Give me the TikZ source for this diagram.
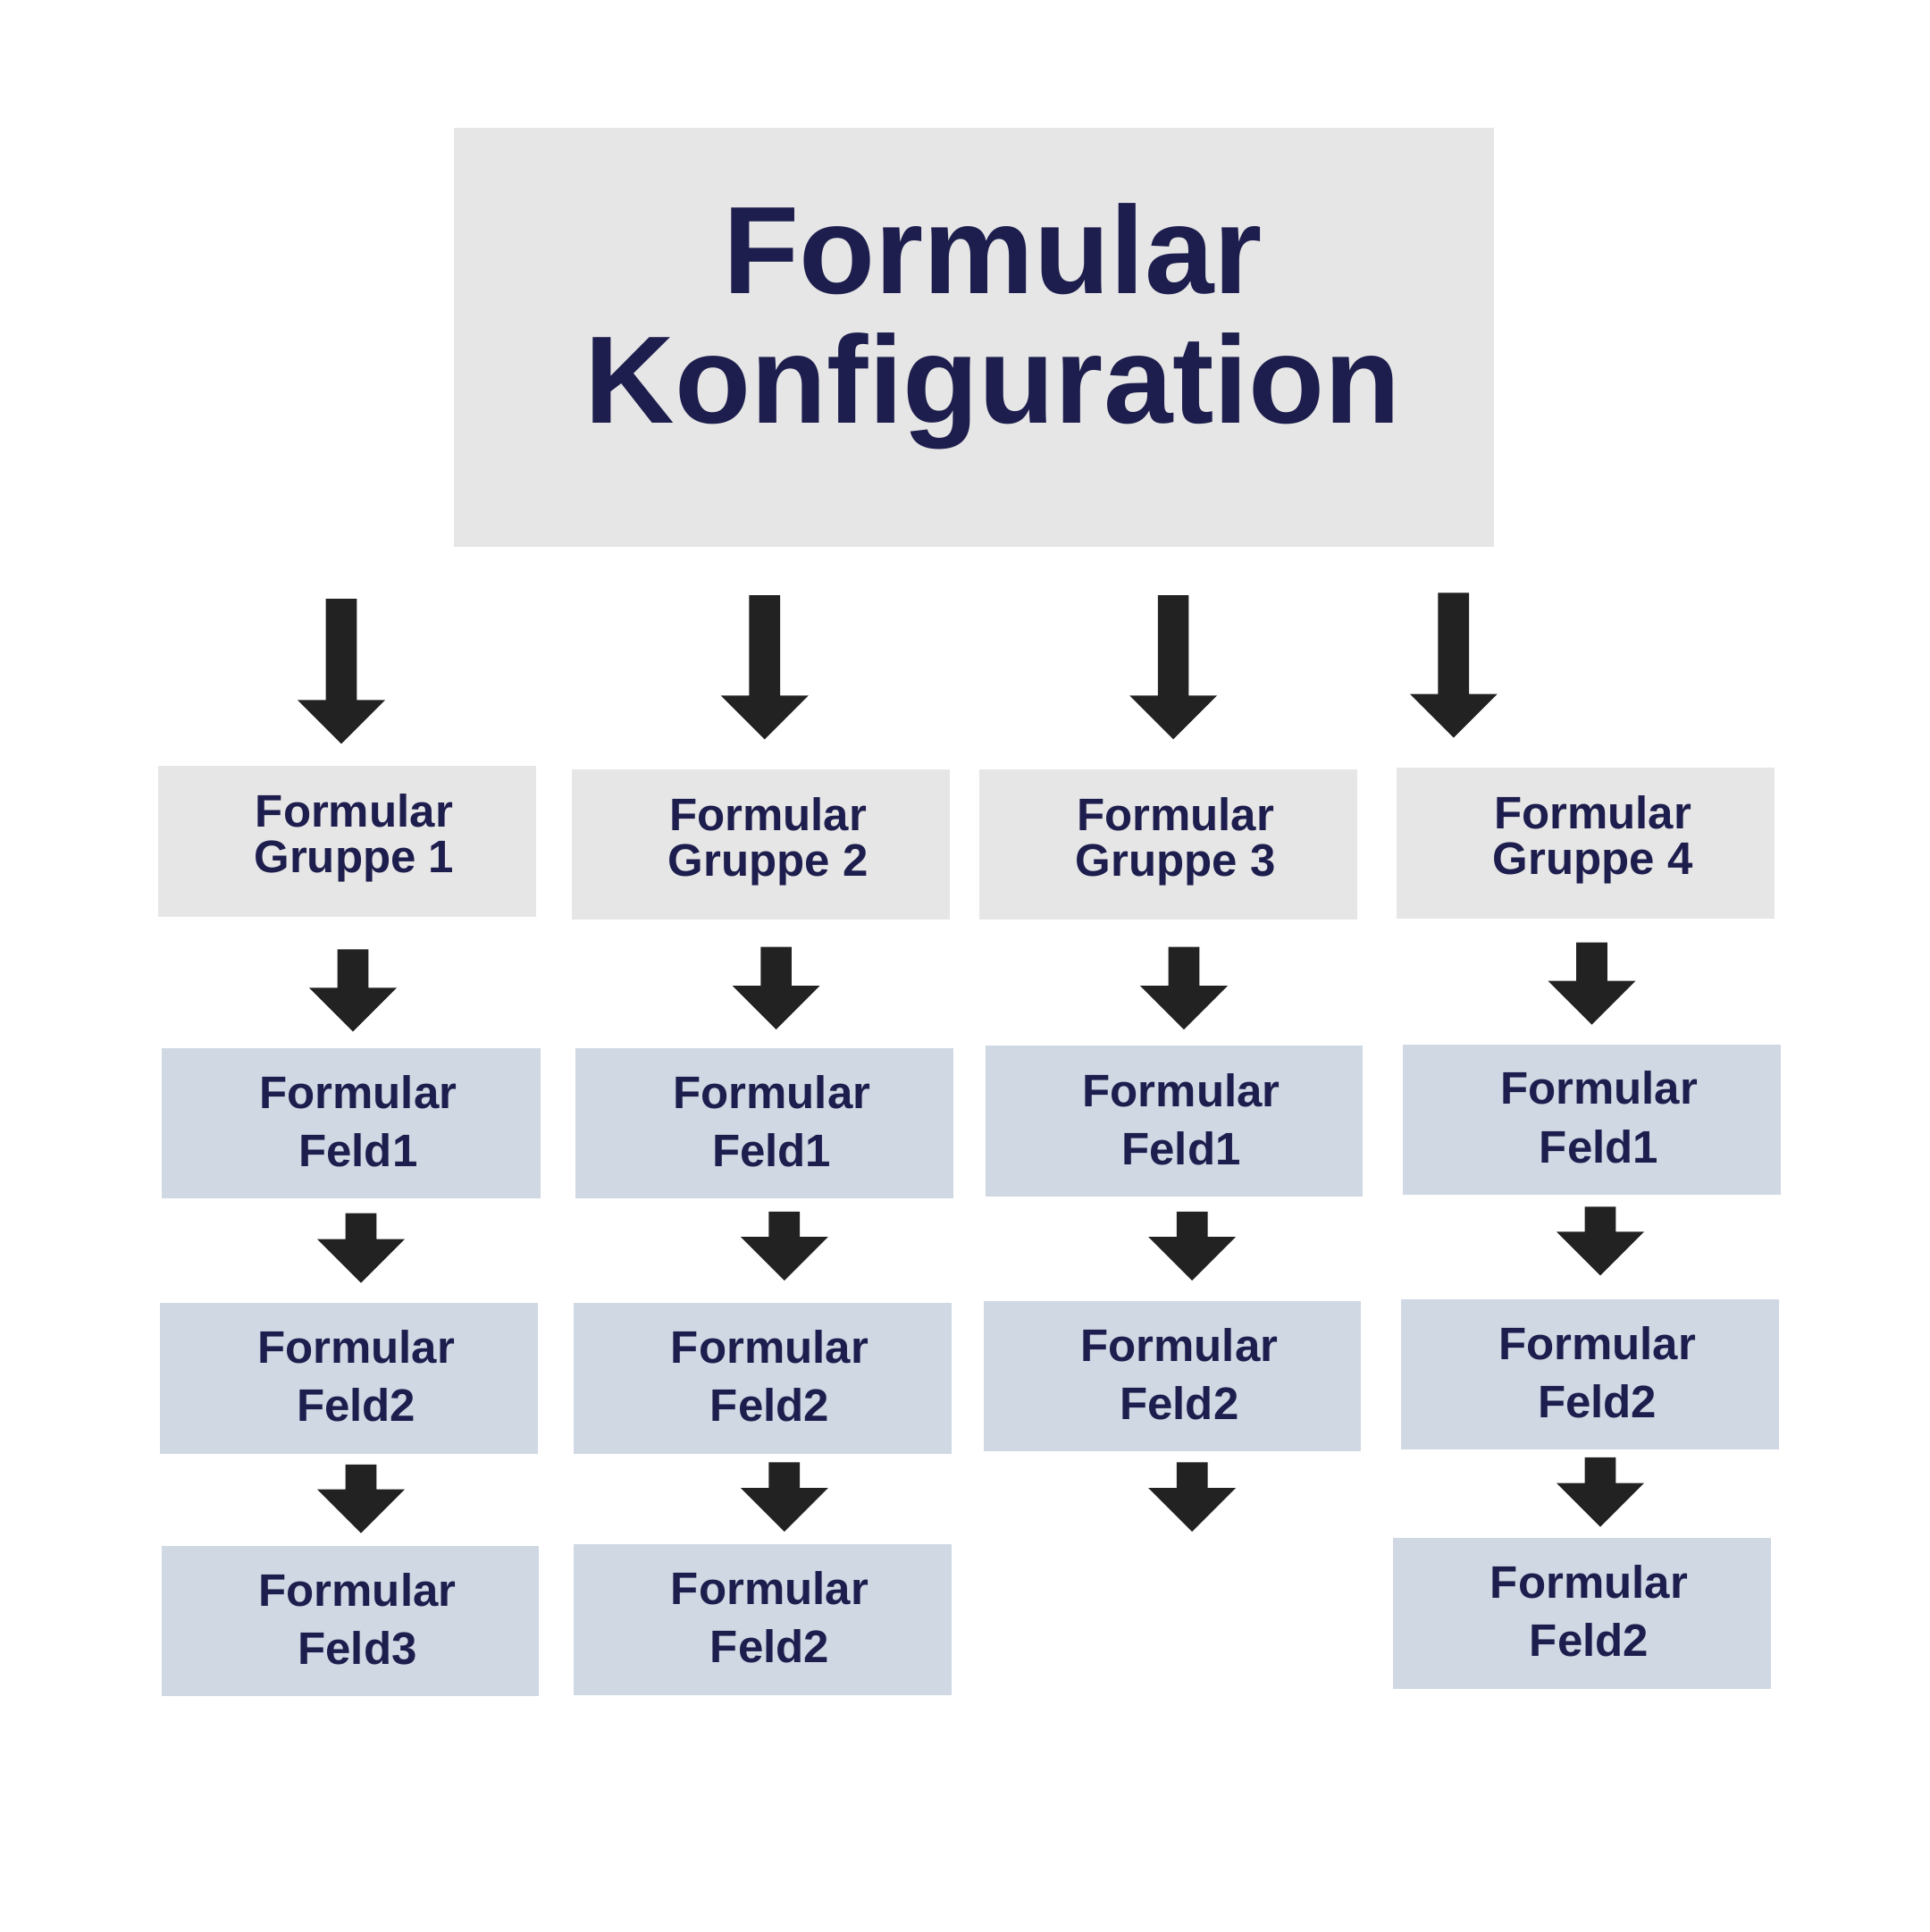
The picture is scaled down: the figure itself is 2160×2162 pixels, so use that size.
\documentclass[tikz,border=0pt]{standalone}
\usepackage{fontspec}
\setmainfont{Liberation Sans}
\usetikzlibrary{fit,calc}
\definecolor{navy}{HTML}{1E1E4E}
\definecolor{grpgray}{HTML}{E6E6E6}
\definecolor{feldblue}{HTML}{CFD8E3}
\definecolor{arrowcol}{HTML}{222222}
\tikzset{
  titlebox/.style={fill=grpgray, draw=none, inner sep=0pt},
  grpbox/.style={fill=grpgray, draw=none, inner sep=0pt},
  feldbox/.style={fill=feldblue, draw=none, inner sep=0pt},
  titletxt/.style={text=navy, align=center, inner sep=0pt, font=\fontsize{39.6pt}{41.25pt}\selectfont\bfseries},
  grptxt/.style={text=navy, align=center, inner sep=0pt, font=\fontsize{14.5pt}{14.5pt}\selectfont\bfseries},
  feldtxt/.style={text=navy, align=center, inner sep=0pt, font=\fontsize{14.5pt}{18.5pt}\selectfont\bfseries},
  blockarrow/.style={fill=arrowcol, draw=none}
}
% box: name, style, left, top, right, bottom
\newcommand{\mkbox}[6]{\node[#2, fit={(#3,#4) (#5,#6)}] (#1) {};}
% block arrow: name, center x, top y, tip y
\newcommand{\mkarrow}[4]{%
  \coordinate (#1s) at (#2,#3);
  \coordinate (#1e) at (#2,#4);
  \fill[blockarrow] ({#2-17.35},#3) -- ({#2+17.35},#3) -- ({#2+17.35},{#4-49}) -- ({#2+49},{#4-49}) -- (#1e) -- ({#2-49},{#4-49}) -- ({#2-17.35},{#4-49}) -- cycle;}
\begin{document}
\begin{tikzpicture}[x=0.01cm, y=-0.01cm]
\useasboundingbox[fill=white] (0,0) rectangle (2160,2162);
% title
\mkbox{top}{titlebox}{508.3}{143.3}{1672.3}{612.3}
\node[titletxt] (topt) at ($(top.center)+(21,-12.5)$) {Formular\\Konfiguration};
% groups
\mkbox{g1}{grpbox}{176.7}{856.7}{600}{1025.7}
\mkbox{g2}{grpbox}{640.4}{860.9}{1062.9}{1029.4}
\mkbox{g3}{grpbox}{1095.9}{860.9}{1519.3}{1029.4}
\mkbox{g4}{grpbox}{1563.4}{859}{1985.8}{1027.5}
\node[grptxt] (g1t) at ($(g1.center)+(8,-3.6)$) {Formular\\Gruppe 1};
\node[grptxt] (g2t) at ($(g2.center)+(8,-3.6)$) {Formular\\Gruppe 2};
\node[grptxt] (g3t) at ($(g3.center)+(8,-3.6)$) {Formular\\Gruppe 3};
\node[grptxt] (g4t) at ($(g4.center)+(8,-3.6)$) {Formular\\Gruppe 4};
% row 1
\mkbox{f11}{feldbox}{181}{1172.7}{604.7}{1341.2}
\mkbox{f21}{feldbox}{644.1}{1173.1}{1067.4}{1341.1}
\mkbox{f31}{feldbox}{1103.3}{1170.4}{1524.8}{1339.3}
\mkbox{f41}{feldbox}{1569.8}{1168.5}{1993.2}{1337}
% row 2
\mkbox{f12}{feldbox}{179.1}{1458}{602.2}{1626.6}
\mkbox{f22}{feldbox}{642.2}{1458.2}{1064.7}{1626.7}
\mkbox{f32}{feldbox}{1100.5}{1455.9}{1523}{1624}
\mkbox{f42}{feldbox}{1568}{1453.6}{1991.3}{1622.1}
% row 3
\mkbox{f13}{feldbox}{180.5}{1730}{603.4}{1898.4}
\mkbox{f23}{feldbox}{642.2}{1727.8}{1064.7}{1896.7}
\mkbox{f43}{feldbox}{1558.8}{1720.9}{1982.1}{1889.9}
\node[feldtxt] (f11t) at ($(f11.center)+(8,-2.5)$) {Formular\\Feld1};
\node[feldtxt] (f21t) at ($(f21.center)+(8,-2.5)$) {Formular\\Feld1};
\node[feldtxt] (f31t) at ($(f31.center)+(8,-2.5)$) {Formular\\Feld1};
\node[feldtxt] (f41t) at ($(f41.center)+(8,-2.5)$) {Formular\\Feld1};
\node[feldtxt] (f12t) at ($(f12.center)+(8,-2.5)$) {Formular\\Feld2};
\node[feldtxt] (f22t) at ($(f22.center)+(8,-2.5)$) {Formular\\Feld2};
\node[feldtxt] (f32t) at ($(f32.center)+(8,-2.5)$) {Formular\\Feld2};
\node[feldtxt] (f42t) at ($(f42.center)+(8,-2.5)$) {Formular\\Feld2};
\node[feldtxt] (f13t) at ($(f13.center)+(8,-2.5)$) {Formular\\Feld3};
\node[feldtxt] (f23t) at ($(f23.center)+(8,-2.5)$) {Formular\\Feld2};
\node[feldtxt] (f43t) at ($(f43.center)+(8,-2.5)$) {Formular\\Feld2};
% arrows title -> groups
\mkarrow{a1}{382}{670}{832.3}
\mkarrow{a2}{855.8}{666.2}{827.3}
\mkarrow{a3}{1313.1}{666.2}{827.3}
\mkarrow{a4}{1626.8}{663.4}{825.5}
% groups -> feld1
\mkarrow{b1}{395}{1062.3}{1154.3}
\mkarrow{b2}{868.6}{1059.7}{1152}
\mkarrow{b3}{1325}{1059.7}{1152}
\mkarrow{b4}{1781.5}{1054.6}{1146.5}
% feld1 -> feld2
\mkarrow{c1}{404}{1357.7}{1435.7}
\mkarrow{c2}{877.8}{1355.8}{1433}
\mkarrow{c3}{1334.2}{1355.8}{1433}
\mkarrow{c4}{1791}{1350.3}{1427.4}
% feld2 -> feld3
\mkarrow{d1}{404}{1638.9}{1715.5}
\mkarrow{d2}{877.8}{1636.4}{1714}
\mkarrow{d3}{1334.2}{1636.4}{1714}
\mkarrow{d4}{1791}{1630.9}{1708.5}
\end{tikzpicture}
\end{document}
